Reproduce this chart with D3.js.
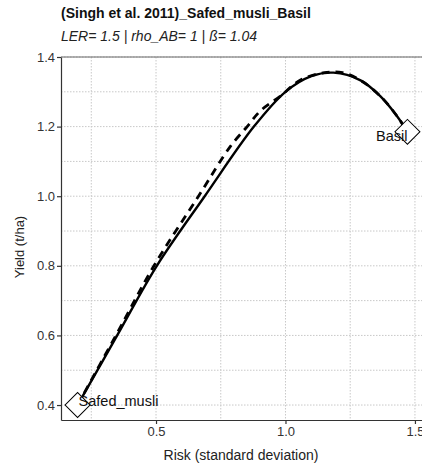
<!DOCTYPE html>
<html>
<head>
<meta charset="utf-8">
<script src="https://cdn.jsdelivr.net/npm/d3@7"></script>
<style>
  html, body { margin: 0; padding: 0; background: #fff; }
  svg { display: block; font-family: "Liberation Sans", Arial, sans-serif; }
</style>
</head>
<body>
<svg id="chart" width="422" height="464"></svg>
<script>
// ---- data ----
const titleText = "(Singh et al. 2011)_Safed_musli_Basil";
const subtitleText = "LER= 1.5  |  rho_AB= 1  |  ß= 1.04";
const cropNames = ["Safed_musli", "Basil"];
const cropRisk = [0.197, 1.471];
const cropYield = [0.400, 1.185];

const solidRisk  = [0.197, 0.350, 0.503, 0.688, 0.878, 1.000, 1.100, 1.185, 1.290, 1.367, 1.431, 1.471];
const solidYield = [0.400, 0.600, 0.800, 1.000, 1.200, 1.300, 1.345, 1.355, 1.333, 1.287, 1.230, 1.185];

const dashRisk  = [0.197, 0.345, 0.492, 0.664, 0.788, 0.852, 0.903, 0.981, 1.058, 1.150, 1.220, 1.290, 1.367, 1.431, 1.471];
const dashYield = [0.400, 0.600, 0.800, 1.000, 1.144, 1.200, 1.245, 1.288, 1.334, 1.355, 1.355, 1.333, 1.287, 1.230, 1.185];

const xTicks = [0.5, 1.0, 1.5];
const xMinor = [0.25, 0.75, 1.25];
const yTicks = [0.4, 0.6, 0.8, 1.0, 1.2, 1.4];
const yMinor = [0.5, 0.7, 0.9, 1.1, 1.3];

// ---- layout ----
const svg = d3.select("#chart");
const pLeft = 61, pRight = 424, pTop = 57, pBottom = 420;
const x = d3.scaleLinear().domain([0.133, 1.535]).range([pLeft, pRight]);
const y = d3.scaleLinear().domain([0.357, 1.4]).range([pBottom, pTop]);

const g = svg.append("g");

// grid
const grid = g.append("g").attr("stroke", "#c8c8c8").attr("stroke-width", 1).attr("stroke-dasharray", "1.5,1.5");
grid.selectAll("line.gy").data(yTicks.concat(yMinor)).join("line")
  .attr("x1", pLeft).attr("x2", pRight).attr("y1", d => y(d)).attr("y2", d => y(d));
grid.selectAll("line.gx").data(xTicks.concat(xMinor)).join("line")
  .attr("y1", pTop).attr("y2", pBottom).attr("x1", d => x(d)).attr("x2", d => x(d));

// panel top border
g.append("line").attr("x1", pLeft).attr("x2", pRight).attr("y1", pTop).attr("y2", pTop)
  .attr("stroke", "#666").attr("stroke-width", 1);

// lines
const solidData = solidRisk.map((r, i) => [r, solidYield[i]]);
const dashData = dashRisk.map((r, i) => [r, dashYield[i]]);
const line = d3.line().x(d => x(d[0])).y(d => y(d[1])).curve(d3.curveCatmullRom.alpha(0.5));

g.append("path").attr("d", line(solidData)).attr("fill", "none")
  .attr("stroke", "#000").attr("stroke-width", 2.4);
g.append("path").attr("d", line(dashData)).attr("fill", "none")
  .attr("stroke", "#000").attr("stroke-width", 2.8).attr("stroke-dasharray", "8,6");

// diamonds
const sym = d3.symbol().type(d3.symbolSquare).size(312);
g.selectAll("path.pt").data(cropNames).join("path")
  .attr("transform", (d, i) => `translate(${x(cropRisk[i])},${y(cropYield[i])}) rotate(45)`)
  .attr("d", sym()).attr("fill", "#fff").attr("stroke", "#000").attr("stroke-width", 1);

// labels
g.append("text").attr("x", x(cropRisk[0]) + 1).attr("y", y(cropYield[0]) + 1)
  .attr("font-size", 14.5).attr("fill", "#111").text(cropNames[0]);
g.append("text").attr("x", x(cropRisk[1])).attr("y", y(cropYield[1]) + 9)
  .attr("text-anchor", "end").attr("font-size", 14.5).attr("fill", "#111").text(cropNames[1]);

// axes
const xAxis = d3.axisBottom(x).tickValues(xTicks).tickFormat(d3.format(".1f")).tickSize(4).tickSizeOuter(0);
const yAxis = d3.axisLeft(y).tickValues(yTicks).tickFormat(d3.format(".1f")).tickSize(4).tickSizeOuter(0);

const gx = g.append("g").attr("transform", `translate(0,${pBottom})`).call(xAxis);
const gy = g.append("g").attr("transform", `translate(${pLeft},0)`).call(yAxis);
[gx, gy].forEach(a => {
  a.select(".domain").attr("stroke", "#333").attr("stroke-width", 1.2);
  a.selectAll(".tick line").attr("stroke", "#333").attr("stroke-width", 1.2);
  a.selectAll(".tick text").attr("fill", "#333").attr("font-size", 13)
    .attr("font-family", "Liberation Sans, Arial, sans-serif");
});
gx.selectAll(".tick text").attr("dy", "0.85em").attr("y", 5);
gy.selectAll(".tick text").attr("x", -6);

// axis titles
svg.append("text").attr("x", 241).attr("y", 460)
  .attr("text-anchor", "middle").attr("font-size", 14).attr("fill", "#222")
  .text("Risk (standard deviation)");
svg.append("text").attr("transform", "translate(24,247) rotate(-90)")
  .attr("text-anchor", "middle").attr("font-size", 13).attr("fill", "#222")
  .text("Yield (t/ha)");

// titles
svg.append("text").attr("x", 61).attr("y", 18).attr("font-size", 14).attr("font-weight", "bold")
  .attr("fill", "#111").text(titleText);
svg.append("text").attr("x", 61).attr("y", 41).attr("font-size", 14).attr("font-style", "italic")
  .attr("fill", "#222").text(subtitleText);
</script>
</body>
</html>
